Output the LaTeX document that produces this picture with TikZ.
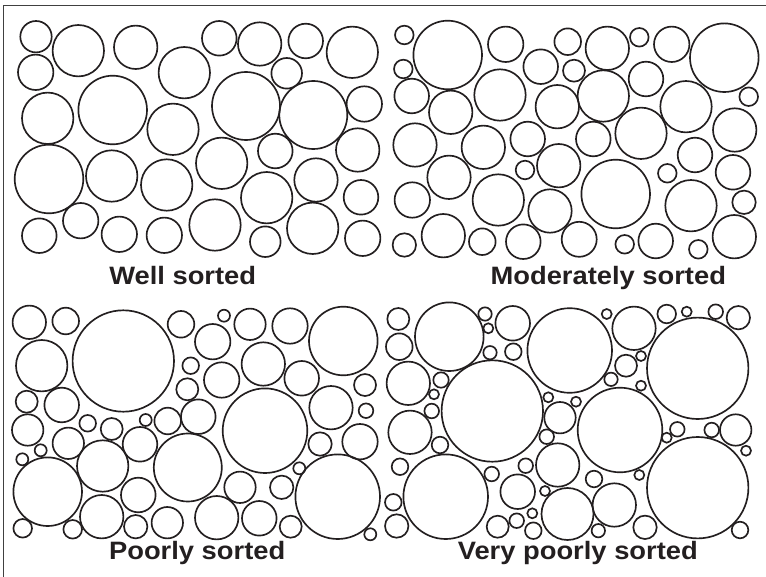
\documentclass[tikz,border=0pt]{standalone}
\usepackage{fontspec}
\usepackage{tikz}
\usetikzlibrary{positioning}
\newfontfamily\labelfont{Liberation Sans}
\definecolor{ink}{RGB}{35,31,32}
\tikzset{%
   % one sediment grain: outline only
   grain/.style={
      draw=ink,
      line width=1.25pt
   },
   frameline/.style={
      draw=black!75,
      line width=.6pt
   },
   sortlabel/.style={
      anchor=base,
      inner sep=0pt,
      text=ink,
      yscale=.92,
      font=\labelfont\bfseries\fontsize{20.5pt}{24pt}\selectfont
   },
}

\begin{document}
\begin{tikzpicture}[x=.75pt, y=-.75pt]
   \useasboundingbox (0,0) rectangle (766,577);
   \coordinate (corner) at (3.5,5);
   \coordinate (topend) at (766,5);
   \coordinate (leftend) at (3.5,577);
   \draw[frameline] (leftend) -- (corner) -- (topend);
   % well sorted
   \foreach \x/\y/\r in {36/36.7/15.7, 35.7/72.3/17.7, 78.3/50.7/25.7, 135.7/47.3/21.7,
      184.3/72.7/25.7, 47.7/118.3/25.7, 112.7/110/34.3, 173/129.3/25.7, 49/179/34.3,
      111.7/176/25.7, 166.7/185/25.7, 80.7/220.7/17.7, 39.3/235.7/17.3, 119.3/234.3/17.7,
      164.3/235.3/17.7, 215/225/25.7, 219.3/38.3/17.3, 259.7/44/21.7, 305.7/41/17.3,
      352.3/52.3/25.7, 286.7/73.3/15.3, 246/106/34, 313.3/115/34, 364.3/104/17.7,
      221.7/163.3/25.7, 275.3/151/17.3, 357.7/150/21.7, 316/180/21.7, 266.7/197.7/25.7,
      361/197.3/17.3, 265.3/241.7/15.3, 312.7/228.3/25.7, 362.7/238.3/17.7}
      \draw[grain] (\x,\y) circle (\r);
   % moderately sorted
   \foreach \x/\y/\r in {404.3/35/9.3, 447.7/55/34.3, 505.7/44.3/17.7, 567.7/41.7/13.3,
      403.3/69/9.3, 540.7/66.7/17.3, 574/70.7/11, 411.7/96/17.3, 450.7/112.3/21.7,
      500/95/25.7, 557.3/106.7/21.7, 415/145/21.7, 483.3/147.3/21.7, 527.7/139/17.3,
      449/177.3/21.7, 525/170/9.3, 558.7/165.7/21.7, 412.3/200/17.7, 498.3/200/25.7,
      550/211/21.7, 404.3/245/11.7, 443.3/235.7/21.7, 482.3/241.7/13.3, 523.3/241.7/17.3,
      579.2/239.3/17.5, 607.3/48.3/21.7, 639.3/37.3/9.3, 671.7/44.3/17.7, 724.3/57.7/34.3,
      646/79/17.3, 603.3/96/25.7, 748.7/96.7/9.3, 686/106.7/25.7, 593.3/139/17.3,
      641/133.3/25.7, 734.7/130/21.7, 695/155/17.3, 667.3/173.3/9.3, 733/172.3/17.3,
      615.7/194/34.3, 691/205.7/25.7, 744/202.3/11.7, 624.7/244.3/9.3, 655.7/241/17.3,
      698.3/249.3/9.3, 734.3/236.7/21.7}
      \draw[grain] (\x,\y) circle (\r);
   % poorly sorted
   \foreach \x/\y/\r in {29.3/322.3/16.7, 65.7/321/13.3, 123.3/361/50.7, 181/324.3/13.3,
      224/315.7/6, 250/324.3/15.7, 290/326/17.7, 343.3/341/34.3, 212.7/341.7/17.7,
      263.3/364/21.7, 301.7/378.3/17.3, 221.7/380/17.7, 365/385/11, 331/407.7/21.7,
      366/410.7/7.3, 265/430.7/42.3, 198.3/416.7/17.3, 320/444/11.7, 360/441.7/17.7,
      187.8/467.5/34, 299.3/468.3/6, 240/487.3/15.7, 281.7/487.3/11.7, 337.7/496.7/42.3,
      216.7/517.7/21.7, 259.3/518.3/17.3, 290.7/526.7/11, 370.3/534.3/6, 41.7/365.7/25.7,
      190.7/365.7/8.3, 187.3/389.3/11, 26.7/401.7/11, 61.7/405/17.3, 27.7/430/15.7,
      87.7/423.3/8.3, 111.7/429/11, 145.7/420/6, 167.7/421/13.3, 68.3/443.3/15.7,
      140/444.3/17.3, 40.7/450.3/6, 22.3/459.3/6, 102.7/466/25.7, 47.7/491.7/34.3,
      138.3/495/17.3, 101.7/516.7/21.7, 22.7/528.3/9.3, 72.7/529.3/9.3, 135.7/526.7/11.7,
      167.3/522.7/15.7}
      \draw[grain] (\x,\y) circle (\r);
   % very poorly sorted
   \foreach \x/\y/\r in {398.3/319/11, 449.3/336.7/34.3, 485/314/6.7, 488.3/328.3/5,
      512.7/323.3/17.3, 399.3/346.7/13.3, 490/352.7/6.7, 513.3/351.7/8.3, 569.7/350.5/42.3,
      408.3/383.3/21.7, 441/380/7.7, 434/394.3/5, 492.3/411/50.7, 548.3/397.3/5,
      576/401.7/5, 431.7/411/7.3, 410/432.3/21.7, 560/417.7/15.7, 620/430/42.3,
      440/445/8.3, 546.7/436.7/7.3, 400/466.7/8.3, 445.7/496.7/42.3, 491.7/474/7.3,
      525.7/465.7/7.3, 557.7/465/21.7, 517.7/491.7/17.3, 545/491/5, 393.3/502.3/8.3,
      396.7/526/11.7, 497.7/526.7/11, 516.7/520.7/7.3, 532.3/513.3/5, 533.3/530.7/8.3,
      567.5/514/26, 606.7/314/5, 634/328.3/21.7, 666.7/314/9.3, 686.7/311.7/5,
      715.7/311.7/7.3, 738.3/317.7/11.7, 697.7/368.3/50.7, 626/365.7/11, 641/356/5,
      611/379.3/6.7, 641/385.7/5, 677.3/429.3/7.3, 666.7/437.7/5, 711.7/430/7.3,
      735.7/430/15.7, 746/450.7/5, 697.7/487.7/50.7, 639.3/475/5, 594/479/8.3,
      614.3/505/21.7, 598.3/530.7/6.7, 645/527.3/11.7, 740/530/8.3}
      \draw[grain] (\x,\y) circle (\r);
   \node[sortlabel] (well) at (182.7,284.3) {Well sorted};
   \node[sortlabel] (moderate) at (608.3,284.3) {Moderately sorted};
   \node[sortlabel] (poor) at (197.2,559.3) {Poorly sorted};
   \node[sortlabel] (verypoor) at (577.8,559.3) {Very poorly sorted};
\end{tikzpicture}
\end{document}
